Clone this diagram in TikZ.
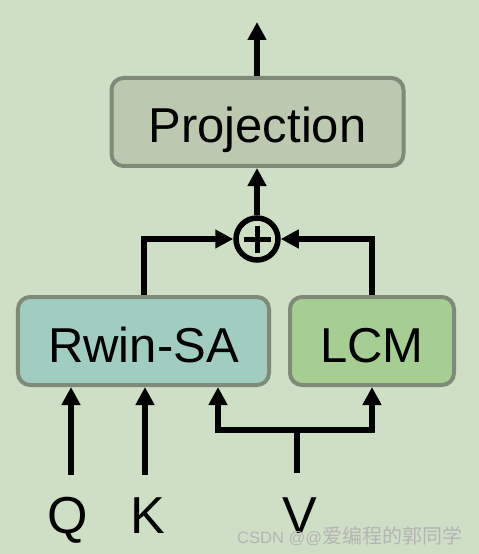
\documentclass[tikz,border=0pt]{standalone}
\usepackage{fontspec}
\setmainfont{Liberation Sans}
\newfontfamily\cjk{Noto Sans CJK SC}
\usetikzlibrary{arrows.meta}
\definecolor{bgc}{HTML}{CFDFC5}
\definecolor{projc}{HTML}{BCC9B0}
\definecolor{edgec}{HTML}{7F8A78}
\definecolor{rwinc}{HTML}{A0CDC0}
\definecolor{lcmc}{HTML}{A6CE93}
\definecolor{wmc}{HTML}{B4B4B4}
\tikzset{
  blk/.style={draw=edgec, line width=4bp, rounded corners=12bp, minimum height=88bp,
    font=\fontsize{49bp}{55bp}\selectfont, text height=42bp, text depth=0pt, inner sep=0pt},
  arr/.style={line width=6bp, -{Triangle[width=18bp,length=18bp]}},
  ln/.style={line width=6bp},
  lbl/.style={font=\fontsize{52bp}{58bp}\selectfont, anchor=base, inner sep=0pt},
}
\begin{document}
\begin{tikzpicture}[x=1bp,y=-1bp]
\fill[bgc] (0,0) rectangle (479,554);
\useasboundingbox (0,0) rectangle (479,554);

\node[blk, fill=projc, minimum width=292bp] (proj) at (257.5,122) {Projection};
\node[blk, fill=rwinc, minimum width=251bp] (rwin) at (143.5,341) {Rwin-SA};
\node[blk, fill=lcmc, minimum width=164bp] (lcm) at (372,341) {LCM};
\node[circle, draw=black, line width=5.5bp, minimum size=42bp, inner sep=0pt,
  path picture={\draw[line width=5bp] (path picture bounding box.center) ++(-13.5bp,0) -- ++(27bp,0)
     (path picture bounding box.center) ++(0,-13.5bp) -- ++(0,27bp);}] (plus) at (257,239) {};

\coordinate (out) at (257,22);
\draw[arr] (proj.north -| plus.north) -- (out);
\draw[arr] (plus.north) -- (plus.north |- proj.south);
\draw[arr] (rwin.north) |- (plus.west);
\draw[arr] (lcm.north) |- (plus.east);

\node[lbl] (Q) at (67.8,533) {Q};
\node[lbl] (K) at (148,533) {K};
\node[lbl] (V) at (299.5,533) {V};

\coordinate (qs) at (71,475);
\coordinate (ks) at (145,475);
\coordinate (vs) at (297,473);
\coordinate (vj) at (297,430);
\coordinate (vl) at (218,430);
\draw[arr] (qs) -- (qs |- rwin.south);
\draw[arr] (ks) -- (ks |- rwin.south);
\draw[ln] (vs) -- (vj);
\draw[arr] (vj) -- (vl) -- (vl |- rwin.south);
\draw[arr] (vj) -| (lcm.south);

\node[anchor=base west, inner sep=0pt, text=wmc] (wm) at (237,543) {\fontsize{16.5bp}{20bp}\selectfont CSDN @@\cjk\fontsize{20bp}{24bp}\selectfont 爱编程的郭同学};
\end{tikzpicture}
\end{document}
